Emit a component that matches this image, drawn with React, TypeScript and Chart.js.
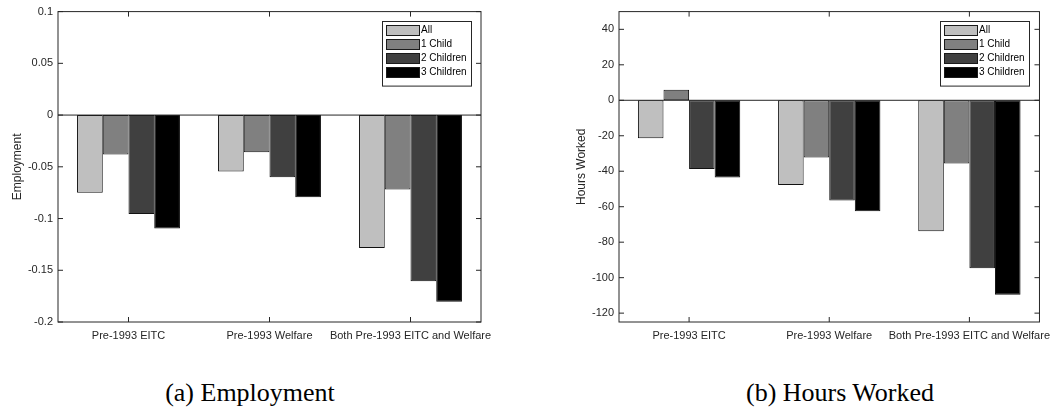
import React, { useEffect, useRef } from 'react';
import { Chart, registerables } from 'chart.js';

Chart.register(...registerables);

const categories = ['Pre-1993 EITC', 'Pre-1993 Welfare', 'Both Pre-1993 EITC and Welfare'];
const seriesLabels = ['All', '1 Child', '2 Children', '3 Children'];
const seriesColors = ['#bfbfbf', '#808080', '#404040', '#000000'];

const employmentAll = [-0.075, -0.0545, -0.1285];
const employment1Child = [-0.038, -0.036, -0.072];
const employment2Children = [-0.0955, -0.06, -0.1606];
const employment3Children = [-0.1096, -0.0795, -0.1805];

const hoursAll = [-21.4, -47.8, -73.9];
const hours1Child = [6.0, -32.3, -35.6];
const hours2Children = [-38.8, -56.5, -94.7];
const hours3Children = [-43.5, -62.5, -109.6];

const employmentTicks = [0.1, 0.05, 0, -0.05, -0.1, -0.15, -0.2];
const hoursTicks = [40, 20, 0, -20, -40, -60, -80, -100, -120];

const FONT = "'Liberation Sans', Arial, Helvetica, sans-serif";
const AXIS_COLOR = '#262626';

const framePlugin = {
  id: 'matlabFrame',
  afterDatasetsDraw(chart: any) {
    const { ctx, chartArea: a, scales } = chart;
    const xs = scales.x;
    const ys = scales.y;
    const line = (x1: number, y1: number, x2: number, y2: number) => {
      ctx.beginPath();
      ctx.moveTo(x1, y1);
      ctx.lineTo(x2, y2);
      ctx.stroke();
    };
    ctx.save();
    ctx.strokeStyle = AXIS_COLOR;
    ctx.lineWidth = 1;
    // baseline at zero
    const y0 = ys.getPixelForValue(0);
    line(a.left, y0, a.right, y0);
    // box
    ctx.strokeRect(a.left, a.top, a.right - a.left, a.bottom - a.top);
    // inward ticks
    const tl = 5;
    ys.ticks.forEach((t: any) => {
      const py = ys.getPixelForValue(t.value);
      line(a.left, py, a.left + tl, py);
      line(a.right, py, a.right - tl, py);
    });
    xs.ticks.forEach((_t: any, i: number) => {
      const px = xs.getPixelForTick(i);
      line(px, a.bottom, px, a.bottom - tl);
      line(px, a.top, px, a.top + tl);
    });
    // legend
    const ds = chart.data.datasets;
    const bw = 89;
    const rowH = 14;
    const bh = 8.6 + rowH * ds.length;
    const bx = a.right - 10 - bw;
    const by = a.top + 9.7;
    ctx.fillStyle = '#ffffff';
    ctx.fillRect(bx, by, bw, bh);
    ctx.strokeStyle = '#262626';
    ctx.strokeRect(Math.round(bx) + 0.5, Math.round(by) + 0.5, bw, bh);
    ctx.font = `10px ${FONT}`;
    ctx.textBaseline = 'middle';
    ctx.textAlign = 'left';
    ds.forEach((d: any, i: number) => {
      const cy = by + 8.3 + i * rowH;
      const sx = Math.round(bx + 4);
      const sy = Math.round(cy - 5);
      ctx.fillStyle = d.backgroundColor;
      ctx.fillRect(sx, sy, 33, 10);
      ctx.strokeStyle = '#1a1a1a';
      ctx.strokeRect(sx + 0.5, sy + 0.5, 33, 10);
      ctx.fillStyle = '#000000';
      ctx.fillText(d.label, sx + 35, cy + 0.5);
    });
    ctx.restore();
  },
};

function makeConfig(
  values: number[][],
  ticks: number[],
  min: number,
  max: number,
  title: string,
  yWidth: number,
  titlePad: number,
  padRight: number
): any {
  return {
    type: 'bar',
    data: {
      labels: categories,
      datasets: values.map((v, i) => ({
        label: seriesLabels[i],
        data: v,
        backgroundColor: seriesColors[i],
        borderColor: '#111111',
        borderWidth: 1,
        borderSkipped: false,
        categoryPercentage: 0.73,
        barPercentage: 1,
      })),
    },
    options: {
      animation: false,
      responsive: false,
      maintainAspectRatio: false,
      layout: { padding: { top: 11, right: padRight, left: 0, bottom: 0 } },
      plugins: { legend: { display: false }, tooltip: { enabled: false } },
      scales: {
        x: {
          type: 'category',
          offset: true,
          border: { display: false },
          grid: { display: false, drawTicks: false },
          ticks: {
            autoSkip: false,
            maxRotation: 0,
            minRotation: 0,
            padding: 7,
            color: AXIS_COLOR,
            font: { family: FONT, size: 11 },
          },
          afterFit: (s: any) => {
            s.height = 23;
          },
        },
        y: {
          type: 'linear',
          min,
          max,
          border: { display: false },
          grid: { display: false, drawTicks: false },
          afterBuildTicks: (s: any) => {
            s.ticks = ticks.map((v) => ({ value: v }));
          },
          ticks: {
            padding: 5,
            color: AXIS_COLOR,
            font: { family: FONT, size: 11 },
            callback: (v: any) => String(v),
          },
          title: {
            display: true,
            text: title,
            color: AXIS_COLOR,
            font: { family: FONT, size: 12 },
            padding: { top: titlePad, bottom: 0 },
          },
          afterFit: (s: any) => {
            s.width = yWidth;
          },
        },
      },
    },
    plugins: [framePlugin],
  };
}

function BarChart(props: { config: any; width: number; height: number }) {
  const ref = useRef<HTMLCanvasElement | null>(null);
  useEffect(() => {
    if (!ref.current) return;
    const chart = new Chart(ref.current, props.config);
    return () => chart.destroy();
  }, []);
  return (
    <canvas
      ref={ref}
      width={props.width}
      height={props.height}
      style={{ width: props.width, height: props.height, display: 'block' }}
    />
  );
}

export default function App() {
  const empConfig = makeConfig(
    [employmentAll, employment1Child, employment2Children, employment3Children],
    employmentTicks,
    -0.2,
    0.1,
    'Employment',
    58,
    10,
    49
  );
  const hoursConfig = makeConfig(
    [hoursAll, hours1Child, hours2Children, hours3Children],
    hoursTicks,
    -125,
    50,
    'Hours Worked',
    89,
    44.5,
    18
  );
  const captionStyle: React.CSSProperties = {
    position: 'absolute',
    top: 378,
    fontFamily: "'Liberation Serif', 'Times New Roman', serif",
    fontSize: 26,
    color: '#000',
    whiteSpace: 'nowrap',
    transform: 'translateX(-50%)',
    lineHeight: '30px',
  };
  return (
    <div
      style={{
        position: 'fixed',
        left: 0,
        top: 0,
        width: 1060,
        height: 414,
        background: '#ffffff',
        overflow: 'hidden',
      }}
    >
      <div style={{ position: 'absolute', left: 0, top: 0 }}>
        <BarChart config={empConfig} width={530} height={345} />
      </div>
      <div style={{ position: 'absolute', left: 530, top: 0 }}>
        <BarChart config={hoursConfig} width={530} height={345} />
      </div>
      <div style={{ ...captionStyle, left: 250 }}>(a) Employment</div>
      <div style={{ ...captionStyle, left: 840 }}>(b) Hours Worked</div>
    </div>
  );
}
